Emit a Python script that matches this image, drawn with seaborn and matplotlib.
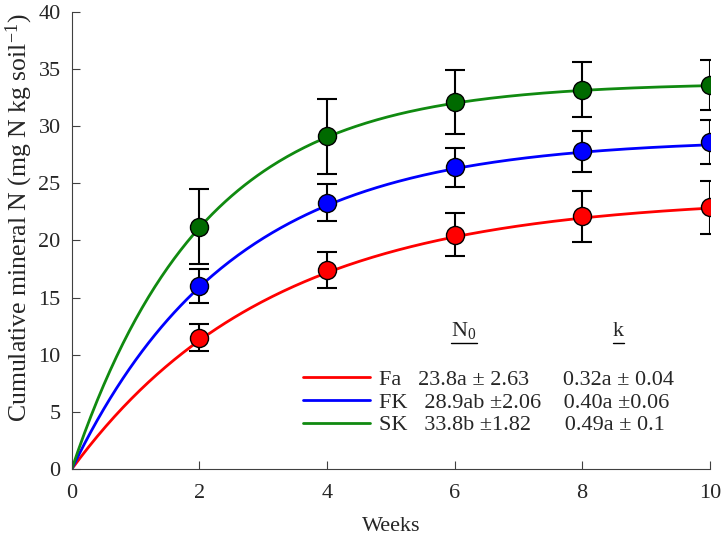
import numpy as np
import pandas as pd
import seaborn as sns
import matplotlib.pyplot as plt
from matplotlib.lines import Line2D
from matplotlib import font_manager

weeks = [2, 4, 6, 8, 10]
treatments = ['Fa', 'FK', 'SK']
mean_n = {'Fa': [11.5, 17.4, 20.5, 22.1, 22.9],
          'FK': [16.0, 23.3, 26.4, 27.8, 28.6],
          'SK': [21.2, 29.1, 32.1, 33.2, 33.6]}
err_n = {'Fa': [1.2, 1.6, 1.9, 2.2, 2.3],
         'FK': [1.5, 1.6, 1.7, 1.8, 1.9],
         'SK': [3.3, 3.3, 2.8, 2.4, 2.2]}
# fitted first-order model N = N0 (1 - exp(-k t)), parameters from the legend
n0 = {'Fa': 23.8, 'FK': 28.9, 'SK': 33.8}
k_rate = {'Fa': 0.32, 'FK': 0.40, 'SK': 0.49}
legend_txt = {'Fa': 'Fa   23.8a \u00b1 2.63      0.32a \u00b1 0.04',
              'FK': 'FK   28.9ab \u00b12.06    0.40a \u00b10.06',
              'SK': 'SK   33.8b \u00b11.82      0.49a \u00b1 0.1'}

line_col = {'Fa': '#ff0000', 'FK': '#0000ff', 'SK': '#108a10'}
dot_col = {'Fa': '#ff0000', 'FK': '#0000ff', 'SK': '#006a00'}

sns.set_style('ticks')

# register the Times-like font straight from its file
serif_name = 'DejaVu Serif'
for p in font_manager.findSystemFonts():
    if 'LiberationSerif-' in p:
        font_manager.fontManager.addfont(p)
        if p.endswith('LiberationSerif-Regular.ttf'):
            serif_name = font_manager.FontProperties(fname=p).get_name()
plt.rcParams['font.family'] = [serif_name, 'DejaVu Sans']
plt.rcParams['mathtext.fontset'] = 'custom'
plt.rcParams['mathtext.rm'] = serif_name
plt.rcParams['mathtext.it'] = serif_name + ':italic'

t = np.linspace(0, 10, 300)
curves = pd.concat([pd.DataFrame({'week': t,
                                  'N': n0[g] * (1 - np.exp(-k_rate[g] * t)),
                                  'trt': legend_txt[g]}) for g in treatments])

fig = plt.figure(figsize=(7.25, 5.41), dpi=100)
ax = fig.add_axes([0.099, 0.133, 0.88, 0.845])

sns.lineplot(data=curves, x='week', y='N', hue='trt',
             palette=[line_col[g] for g in treatments], linewidth=2,
             ax=ax, zorder=2)

for g in treatments:
    ax.errorbar(weeks, mean_n[g], yerr=err_n[g], fmt='none', ecolor='black',
                elinewidth=1.5, capsize=7, capthick=1.5, zorder=3)
    ax.plot(weeks, mean_n[g], 'o', ms=13, mfc=dot_col[g], mec='black',
            mew=1, zorder=4)

ax.set_xlim(0, 10)
ax.set_ylim(0, 40)
ax.set_xticks(range(0, 11, 2))
ax.set_yticks(range(0, 41, 5))
ax.tick_params(direction='in', length=6, labelsize=16, color='#404040', pad=8)
ax.tick_params(axis='x', pad=11)
for s in ['top', 'right']:
    ax.spines[s].set_visible(False)
for s in ['left', 'bottom']:
    ax.spines[s].set_color('#404040')
ax.set_xlabel('Weeks', fontsize=16, labelpad=10)
ax.set_ylabel('Cumulative mineral N (mg N kg soil$^{-1}$)', fontsize=18.5)
ax.yaxis.set_label_coords(-0.058, 0.55)

leg = ax.legend(loc='lower right', bbox_to_anchor=(0.975, 0.03), frameon=False,
                fontsize=16, handlelength=3.0, labelspacing=0.1,
                handletextpad=0.4)

# column headers, underlined
heads = [ax.text(0.615, 0.29, 'N$_0$', transform=ax.transAxes, fontsize=16,
                 ha='center'),
         ax.text(0.857, 0.29, 'k', transform=ax.transAxes, fontsize=16,
                 ha='center')]
fig.canvas.draw()
r = fig.canvas.get_renderer()
for h in heads:
    bb = h.get_window_extent(r)
    (x0, y0), (x1, _) = fig.transFigure.inverted().transform(
        [[bb.x0, bb.y0], [bb.x1, bb.y1]])
    fig.add_artist(Line2D([x0, x1], [y0 - 0.002, y0 - 0.002], color='black',
                          lw=1, transform=fig.transFigure))

fig.savefig('out.png', dpi=100)
